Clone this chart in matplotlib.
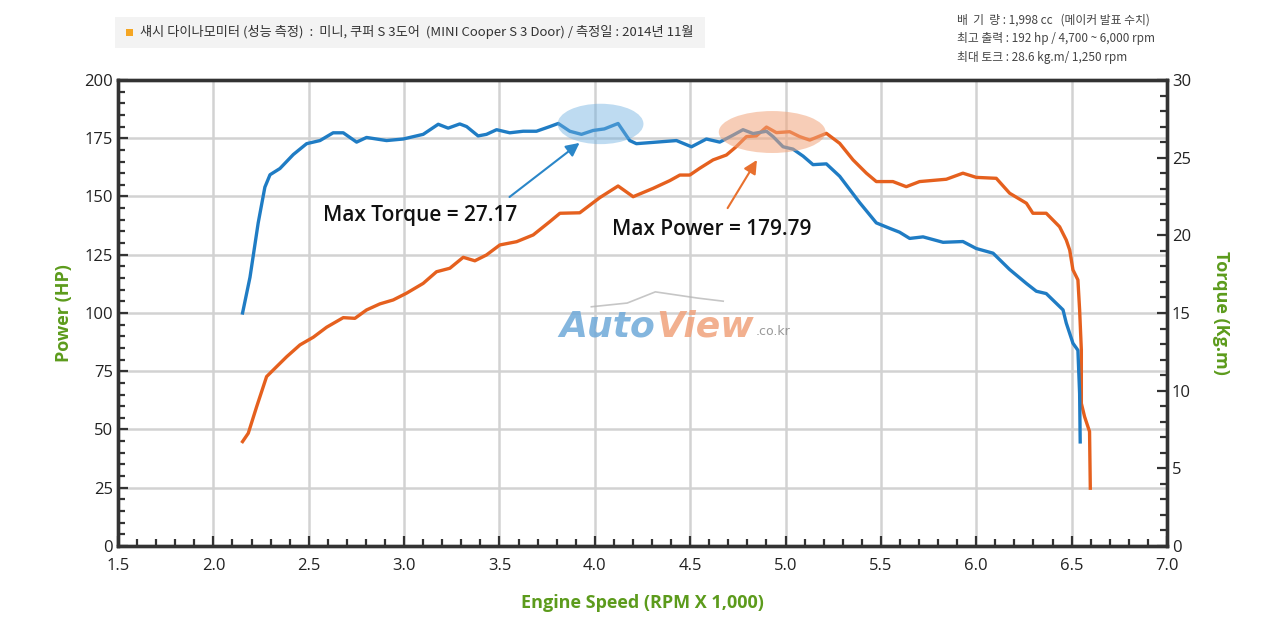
import matplotlib
matplotlib.use("Agg")
import matplotlib.pyplot as plt
from matplotlib.patches import Ellipse, Rectangle
from matplotlib.ticker import MultipleLocator, FormatStrFormatter

# dyno readings
torque_rpm = [2.153, 2.192, 2.235, 2.270, 2.297, 2.349, 2.419, 2.489, 2.559, 2.628,
              2.681, 2.751, 2.803, 2.908, 2.995, 3.100, 3.179, 3.231, 3.292, 3.328,
              3.388, 3.432, 3.485, 3.554, 3.624, 3.694, 3.764, 3.808, 3.869, 3.930,
              3.991, 4.050, 4.122, 4.183, 4.218, 4.323, 4.428, 4.507, 4.585, 4.655,
              4.725, 4.777, 4.830, 4.900, 4.935, 4.987, 5.039, 5.092, 5.144, 5.214,
              5.284, 5.389, 5.476, 5.546, 5.598, 5.651, 5.721, 5.826, 5.930, 6.000,
              6.088, 6.175, 6.263, 6.315, 6.367, 6.455, 6.472, 6.507, 6.533, 6.542,
              6.545]
torque_kgm = [15.0, 17.3, 20.8, 23.1, 23.9, 24.3, 25.2, 25.9, 26.1, 26.6,
              26.6, 26.0, 26.3, 26.1, 26.2, 26.5, 27.15, 26.9, 27.17, 27.0,
              26.4, 26.5, 26.8, 26.6, 26.7, 26.7, 27.0, 27.2, 26.7, 26.5,
              26.75, 26.85, 27.2, 26.1, 25.9, 26.0, 26.1, 25.7, 26.2, 26.0,
              26.45, 26.8, 26.55, 26.7, 26.35, 25.7, 25.55, 25.1, 24.55, 24.6,
              23.8, 22.1, 20.8, 20.45, 20.2, 19.8, 19.9, 19.55, 19.6, 19.15,
              18.85, 17.8, 16.9, 16.4, 16.25, 15.2, 14.35, 13.05, 12.6, 9.8,
              6.7]

power_rpm = [2.153, 2.183, 2.227, 2.279, 2.332, 2.384, 2.454, 2.524, 2.594, 2.681,
             2.742, 2.803, 2.873, 2.943, 3.013, 3.100, 3.170, 3.240, 3.310, 3.371,
             3.432, 3.502, 3.590, 3.677, 3.764, 3.817, 3.921, 4.026, 4.122, 4.201,
             4.306, 4.393, 4.446, 4.498, 4.550, 4.620, 4.690, 4.742, 4.795, 4.847,
             4.900, 4.952, 5.022, 5.074, 5.127, 5.214, 5.284, 5.354, 5.424, 5.476,
             5.563, 5.633, 5.703, 5.843, 5.930, 6.000, 6.105, 6.175, 6.263, 6.297,
             6.367, 6.437, 6.472, 6.490, 6.507, 6.533, 6.542, 6.551, 6.551, 6.568,
             6.594, 6.598]
power_hp = [44.8, 48.4, 59.8, 72.7, 77.0, 81.2, 86.3, 89.6, 93.9, 98.0,
            97.7, 101.3, 103.9, 105.6, 108.5, 112.7, 117.7, 119.2, 123.9, 122.4,
            124.9, 129.2, 130.6, 133.5, 139.2, 142.8, 143.0, 149.5, 154.5, 149.9,
            153.5, 156.8, 159.2, 159.2, 162.1, 165.7, 167.8, 171.4, 175.7, 176.0,
            179.8, 177.4, 177.8, 175.7, 174.2, 177.1, 172.8, 165.7, 160.0, 156.4,
            156.4, 154.2, 156.4, 157.4, 160.0, 158.2, 157.8, 151.4, 147.1, 142.8,
            142.8, 137.0, 131.3, 127.0, 118.5, 114.2, 101.3, 84.1, 61.2, 55.5,
            49.1, 24.8]

header = "섀시 다이나모미터 (성능 측정)  :  미니, 쿠퍼 S 3도어  (MINI Cooper S 3 Door) / 측정일 : 2014년 11월"
specs = ["배  기  량 : 1,998 cc   (메이커 발표 수치)",
         "최고 출력 : 192 hp / 4,700 ~ 6,000 rpm",
         "최대 토크 : 28.6 kg.m/ 1,250 rpm"]

blue = "#1f7cc4"
orange = "#e5601e"
green = "#5c9b1c"
kr = ["Noto Sans CJK KR", "DejaVu Sans"]

plt.rcParams["font.family"] = ["Open Sans", "Noto Sans CJK KR", "DejaVu Sans"]

fig = plt.figure(figsize=(12.8, 6.21), dpi=100)
fig.patch.set_facecolor("white")
ax = fig.add_axes([0.0922, 0.1208, 0.8195, 0.7504])
ax2 = ax.twinx()

ax.set_xlim(1.5, 7.0)
ax.set_ylim(0, 200)
ax2.set_ylim(0, 30)

ax.xaxis.set_major_locator(MultipleLocator(0.5))
ax.xaxis.set_minor_locator(MultipleLocator(0.1))
ax.yaxis.set_major_locator(MultipleLocator(25))
ax.yaxis.set_minor_locator(MultipleLocator(5))
ax2.yaxis.set_major_locator(MultipleLocator(5))
ax2.yaxis.set_minor_locator(MultipleLocator(1))
ax.xaxis.set_major_formatter(FormatStrFormatter("%.1f"))

ax.grid(True, which="major", color="#d2d2d2", lw=1.8)
ax.set_axisbelow(True)

for a in (ax, ax2):
    for s in a.spines.values():
        s.set_color("#333333")
        s.set_linewidth(2.4)
    a.tick_params(which="major", direction="in", length=7, width=1.6,
                  colors="#333333", labelsize=12, labelcolor="#222222")
    a.tick_params(which="minor", direction="in", length=5, width=1.6, colors="#333333")
ax.tick_params(axis="x", which="major", pad=9)

ax.plot(power_rpm, power_hp, color=orange, lw=2.4, solid_joinstyle="round", zorder=3)
ax2.plot(torque_rpm, torque_kgm, color=blue, lw=2.4, solid_joinstyle="round", zorder=3)

# highlight blobs
ax2.add_patch(Ellipse((4.03, 27.17), 0.45, 2.6, color="#6fb0e0", alpha=0.45, lw=0, zorder=4))
ax2.add_patch(Ellipse((4.93, 26.65), 0.56, 2.7, color="#f2a57c", alpha=0.55, lw=0, zorder=4))

ax2.annotate("Max Torque = 27.17", xy=(3.92, 25.95), xytext=(2.575, 21.25),
             fontsize=15, fontweight="semibold", color="#111111", va="center",
             arrowprops=dict(arrowstyle="-|>", color="#2a86c8", lw=1.5,
                             mutation_scale=20, shrinkA=0, shrinkB=0,
                             relpos=(0.96, 1.4)), zorder=6)
ax2.annotate("Max Power = 179.79", xy=(4.85, 24.85), xytext=(4.09, 20.4),
             fontsize=15, fontweight="semibold", color="#111111", va="center",
             arrowprops=dict(arrowstyle="-|>", color="#e8702e", lw=1.5,
                             mutation_scale=20, shrinkA=0, shrinkB=0,
                             relpos=(0.58, 1.5)), zorder=6)

ax.set_xlabel("Engine Speed (RPM X 1,000)", fontsize=13, fontweight="bold", color=green, labelpad=14)
ax.set_ylabel("Power (HP)", fontsize=13, fontweight="bold", color=green, labelpad=8)
ax2.set_ylabel("Torque (Kg.m)", fontsize=13, fontweight="bold", color=green,
               rotation=-90, labelpad=28)

# watermark
fig.lines.append(plt.Line2D([0.462, 0.49, 0.512, 0.545, 0.565],
                            [0.506, 0.512, 0.530, 0.520, 0.515],
                            transform=fig.transFigure, color="#b8b8b8", lw=1.2, alpha=0.8))
fig.text(0.437, 0.474, "Auto", fontsize=26, fontweight="heavy", style="italic",
         color="#6fa9d9", alpha=0.85, family="DejaVu Sans", va="center")
fig.text(0.513, 0.474, "View", fontsize=26, fontweight="heavy", style="italic",
         color="#f0a27c", alpha=0.85, family="DejaVu Sans", va="center")
fig.text(0.5905, 0.466, ".co.kr", fontsize=9, color="#999999", family="DejaVu Sans", va="center")

# header band
fig.patches.append(Rectangle((0.09, 0.922), 0.461, 0.05, transform=fig.transFigure,
                             facecolor="#f3f3f3", edgecolor="none"))
fig.patches.append(Rectangle((0.0985, 0.942), 0.0055, 0.012, transform=fig.transFigure,
                             facecolor="#f5a623", edgecolor="none"))
fig.text(0.109, 0.948, header, fontsize=9.5, color="#333333", family=kr, va="center")

for i, line in enumerate(specs):
    fig.text(0.748, 0.968 - i * 0.03, line, fontsize=8.5, color="#444444", family=kr, va="center")

fig.savefig("out.png", dpi=100)
